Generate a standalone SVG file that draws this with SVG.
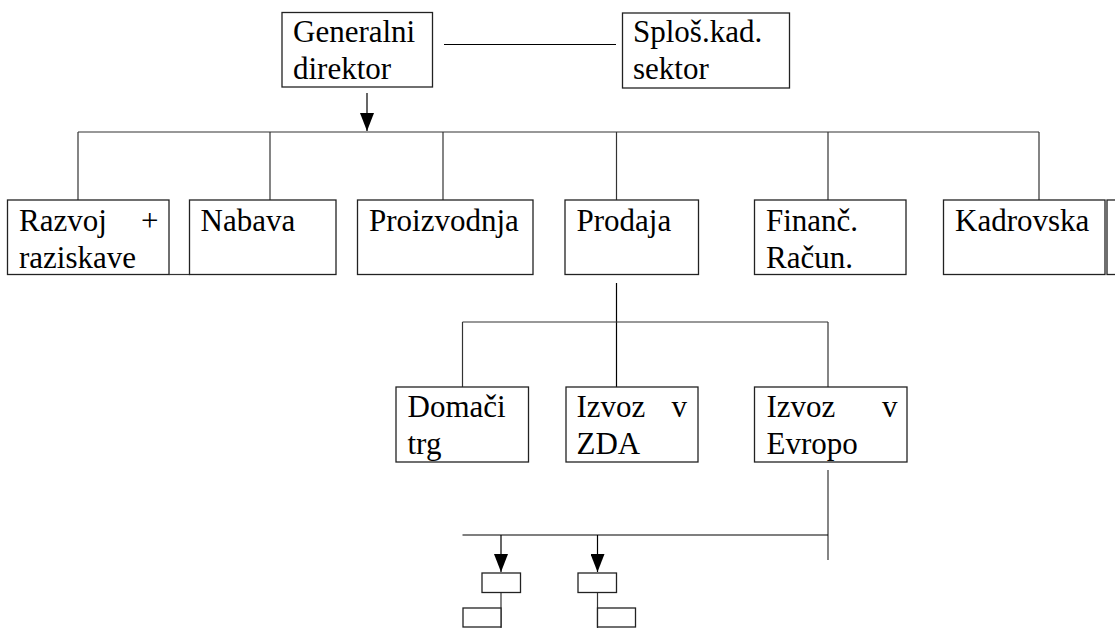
<svg xmlns="http://www.w3.org/2000/svg" width="1115" height="628" viewBox="0 0 1115 628">
  <defs>
    <marker id="arrow" viewBox="0 0 18 14" refX="18" refY="7" markerWidth="18" markerHeight="14" markerUnits="userSpaceOnUse" orient="auto">
      <path d="M0,0 L18,7 L0,14 Z" fill="#000"/>
    </marker>
    <style>
      .box { fill: #fff; stroke: #222; stroke-width: 1.3; }
      .line { fill: none; stroke: #333; stroke-width: 1.2; }
      .dark { fill: none; stroke: #000; stroke-width: 1.2; }
      .lbl { font-family: "Liberation Serif", "Times New Roman", serif; font-size: 31px; fill: #000; }
    </style>
  </defs>
  <rect width="1115" height="628" fill="#fff"/>

  <!-- connectors -->
  <g id="connectors">
    <line class="dark" x1="444" y1="44.5" x2="616" y2="44.5"/>
    <line class="dark" x1="367" y1="93" x2="367" y2="131" marker-end="url(#arrow)"/>
    <line class="line" x1="78" y1="132" x2="1039" y2="132"/>
    <line class="line" x1="78" y1="132" x2="78" y2="208"/>
    <line class="line" x1="270" y1="132" x2="270" y2="208"/>
    <line class="line" x1="443" y1="132" x2="443" y2="208"/>
    <line class="line" x1="616.5" y1="132" x2="616.5" y2="208"/>
    <line class="line" x1="828" y1="132" x2="828" y2="208"/>
    <line class="line" x1="1039" y1="132" x2="1039" y2="208"/>
    <line class="dark" x1="616.5" y1="283" x2="616.5" y2="402"/>
    <line class="line" x1="462.5" y1="322" x2="828" y2="322"/>
    <line class="line" x1="462.5" y1="322" x2="462.5" y2="397"/>
    <line class="line" x1="828" y1="322" x2="828" y2="397"/>
    <line class="line" x1="828" y1="470" x2="828" y2="560"/>
    <line class="dark" x1="462.5" y1="535" x2="828" y2="535"/>
    <line class="dark" x1="501" y1="535" x2="501" y2="572" marker-end="url(#arrow)"/>
    <line class="dark" x1="597.5" y1="535" x2="597.5" y2="572" marker-end="url(#arrow)"/>
    <line class="line" x1="501" y1="592.5" x2="501" y2="628"/>
    <line class="line" x1="597.5" y1="592.5" x2="597.5" y2="628"/>
  </g>

  <!-- top level -->
  <g id="generalni">
    <rect class="box" x="282" y="12.5" width="150.5" height="74.5"/>
    <text class="lbl" x="293" y="41.5">Generalni</text>
    <text class="lbl" x="293" y="78.5">direktor</text>
  </g>
  <g id="splosni">
    <rect class="box" x="622.5" y="13" width="167" height="75"/>
    <text class="lbl" x="633" y="42">Sploš.kad.</text>
    <text class="lbl" x="633" y="79">sektor</text>
  </g>

  <!-- departments -->
  <g id="razvoj">
    <rect class="box" x="7.5" y="200" width="161.5" height="74.5"/>
    <line class="line" x1="169" y1="274.5" x2="190" y2="274.5"/>
    <text class="lbl" x="19" y="231">Razvoj</text>
    <text class="lbl" x="158.5" y="231" text-anchor="end">+</text>
    <text class="lbl" x="19" y="268">raziskave</text>
  </g>
  <g id="nabava">
    <rect class="box" x="189.5" y="200" width="146.5" height="74.5"/>
    <text class="lbl" x="200.5" y="231">Nabava</text>
  </g>
  <g id="proizvodnja">
    <rect class="box" x="357.5" y="200" width="175.5" height="74.5"/>
    <text class="lbl" x="369" y="231">Proizvodnja</text>
  </g>
  <g id="prodaja">
    <rect class="box" x="565" y="200" width="133.5" height="74.5"/>
    <text class="lbl" x="576.5" y="231">Prodaja</text>
  </g>
  <g id="financ">
    <rect class="box" x="754.5" y="200" width="151.5" height="74.5"/>
    <text class="lbl" x="766" y="231">Finanč.</text>
    <text class="lbl" x="766" y="268">Račun.</text>
  </g>
  <g id="kadrovska">
    <rect class="box" x="943.5" y="200" width="161.5" height="74.5"/>
    <text class="lbl" x="955" y="231">Kadrovska</text>
  </g>
  <g id="rob">
    <rect class="box" x="1107" y="200" width="30" height="74.5"/>
  </g>

  <!-- sales units -->
  <g id="domaci">
    <rect class="box" x="396" y="387" width="132.5" height="75"/>
    <text class="lbl" x="407.5" y="416.5">Domači</text>
    <text class="lbl" x="407.5" y="453.5">trg</text>
  </g>
  <g id="zda">
    <rect class="box" x="566" y="387" width="132" height="75"/>
    <text class="lbl" x="576.5" y="416.5">Izvoz</text>
    <text class="lbl" x="687" y="416.5" text-anchor="end">v</text>
    <text class="lbl" x="576.5" y="453.5">ZDA</text>
  </g>
  <g id="evropa">
    <rect class="box" x="754.5" y="387" width="152.5" height="75"/>
    <text class="lbl" x="766.5" y="416.5">Izvoz</text>
    <text class="lbl" x="897.5" y="416.5" text-anchor="end">v</text>
    <text class="lbl" x="766.5" y="453.5">Evropo</text>
  </g>

  <!-- small units -->
  <g id="enota1">
    <rect class="box" x="482" y="573" width="38.5" height="19.5"/>
  </g>
  <g id="enota2">
    <rect class="box" x="578" y="573" width="38.5" height="19.5"/>
  </g>
  <g id="enota3">
    <rect class="box" x="463" y="608" width="38" height="19"/>
  </g>
  <g id="enota4">
    <rect class="box" x="597.5" y="608" width="38" height="19"/>
  </g>
</svg>
